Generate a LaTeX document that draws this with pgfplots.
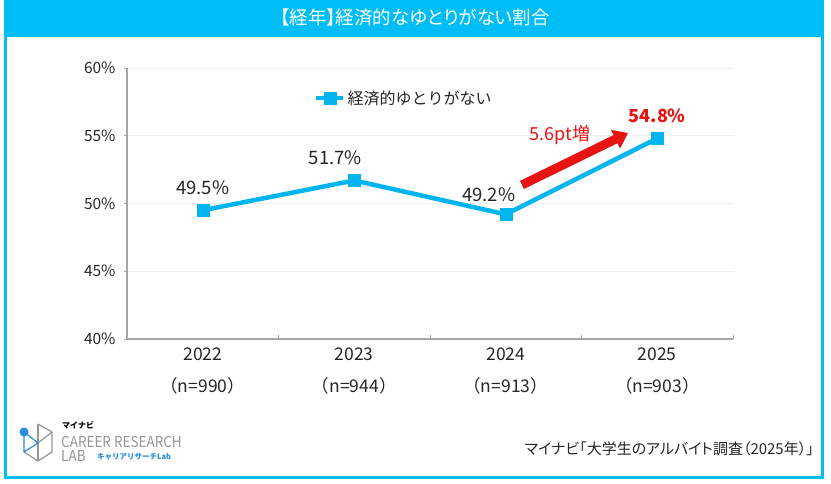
\documentclass[border=0pt]{standalone}
\usepackage{pgfplots}
\pgfplotsset{compat=1.18}
\usetikzlibrary{arrows.meta}
\usepackage{fontspec}
\setmainfont{Noto Sans CJK JP}
\newfontfamily\jp[RawFeature=+palt]{Noto Sans CJK JP}
\definecolor{cy}{RGB}{0,180,240}
\definecolor{barc}{RGB}{0,190,245}
\definecolor{txt}{RGB}{38,38,38}
\definecolor{axc}{RGB}{166,166,166}
\definecolor{grd}{RGB}{238,238,238}
\definecolor{logog}{RGB}{150,150,150}
\definecolor{logob}{RGB}{40,140,220}
\definecolor{redc}{RGB}{232,20,20}
\begin{document}
\begin{tikzpicture}
\begin{scope}[x=1bp,y=-1bp]
\fill[white] (0,0) rectangle (831,484);
\fill[barc] (4,0) rectangle (823,37);
\draw[barc, line width=3bp] (5.5,1.5) rectangle (822,477);
\node[white, font=\jp\fontsize{18.5bp}{20bp}\selectfont] at (415,18) {【経年】経済的なゆとりがない割合};
% logo
\draw[logog, line width=1.2bp, line join=round] (38,424) -- (52,432) -- (52,452) -- (38,461) -- (24,452);
\draw[logog, line width=1.2bp] (38,424) -- (38,461);
\draw[logog, line width=1.2bp] (38,443) -- (52,432);
\draw[logob, line width=1.2bp, line join=round] (24,432) -- (24,452) -- (38,443) -- (24,432);
\fill[logob] (24,432) circle (4.5);
\node[anchor=west, inner sep=0, font=\fontsize{8bp}{9bp}\selectfont\bfseries] at (62,425) {マイナビ};
\node[anchor=west, inner sep=0, logog, xscale=0.9, font=\fontsize{15bp}{16bp}\selectfont] at (61,442) {CAREER RESEARCH};
\node[anchor=west, inner sep=0, logog, xscale=0.9, font=\fontsize{15bp}{16bp}\selectfont] at (61,456) {LAB};
\node[anchor=west, inner sep=0, logob, font=\fontsize{7.5bp}{8bp}\selectfont\bfseries] at (97,457) {キャリアリサーチLab};
% source
\node[anchor=east, inner sep=0, txt, font=\jp\fontsize{15bp}{16bp}\selectfont] at (814,449) {マイナビ「大学生のアルバイト調査（2025年）」};
\end{scope}
\begin{axis}[
  at={(127bp,-339bp)}, anchor=south west,
  scale only axis, width=606bp, height=271bp,
  xmin=-0.5, xmax=3.5, ymin=40, ymax=60,
  axis x line*=bottom, axis y line*=left,
  axis line style={axc, line width=1.2bp},
  xtick={0,1,2,3},
  xticklabels={{2022\\[12bp]（n=990）},{2023\\[12bp]（n=944）},{2024\\[12bp]（n=913）},{2025\\[12bp]（n=903）}},
  x tick label style={align=center, yshift=-5bp, font=\fontsize{17.5bp}{20bp}\selectfont, text=txt},
  major x tick style={draw=none},
  minor xtick={0.5,1.5,2.5,3.5},
  minor x tick style={axc, line width=0.8bp},
  minor tick length=4bp,
  xtick align=inside,
  ytick={40,45,50,55,60},
  yticklabels={40\%,45\%,50\%,55\%,60\%},
  y tick label style={xshift=-5bp, font=\fontsize{15.5bp}{17bp}\selectfont, text=txt},
  major y tick style={axc, line width=0.8bp},
  major tick length=3bp,
  ytick align=outside,
  ymajorgrids, grid style={grd, line width=0.8bp},
  clip=false,
  legend style={at={(0.457,0.889)}, anchor=center, draw=none, fill=none,
    font=\fontsize{16bp}{18bp}\selectfont, text=txt},
  legend cell align=left,
  legend image code/.code={\draw[#1, mark repeat=2, mark phase=2] plot coordinates {(0bp,0bp) (13.5bp,0bp) (27bp,0bp)};},
]
\addplot[cy, line width=4.5bp, mark=square*, mark size=6bp, mark options={solid, line width=0.5bp, fill=cy}]
  coordinates {(0,49.5) (1,51.7) (2,49.2) (3,54.8)};
\addlegendentry{経済的ゆとりがない}
\addplot[draw=none, mark=none, forget plot, nodes near coords, point meta=explicit symbolic,
  every node near coord/.style={anchor=center, yshift=23bp, font=\fontsize{18.5bp}{20bp}\selectfont, text=txt}]
  coordinates {(0,49.5)[49.5\%]};
\addplot[draw=none, mark=none, forget plot, nodes near coords, point meta=explicit symbolic,
  every node near coord/.style={anchor=center, xshift=-19bp, yshift=23bp, font=\fontsize{18.5bp}{20bp}\selectfont, text=txt}]
  coordinates {(1,51.7)[51.7\%]};
\addplot[draw=none, mark=none, forget plot, nodes near coords, point meta=explicit symbolic,
  every node near coord/.style={anchor=center, xshift=-17bp, yshift=20bp, font=\fontsize{18.5bp}{20bp}\selectfont, text=txt}]
  coordinates {(2,49.2)[49.2\%]};
\addplot[draw=none, mark=none, forget plot, nodes near coords, point meta=explicit symbolic,
  every node near coord/.style={anchor=center, yshift=23bp, font=\fontsize{18bp}{20bp}\selectfont\bfseries, text=redc}]
  coordinates {(3,54.8)[54.8\%]};
\draw[redc, line width=9bp, -{Triangle[length=14bp,width=20bp]}] (axis cs:2.107,51.37) -- (axis cs:2.807,55.2);
\node[redc, font=\fontsize{18bp}{20bp}\selectfont] at (axis cs:2.358,55.06) {5.6pt増};
\end{axis}
\begin{scope}[x=1bp,y=-1bp]
\pgfresetboundingbox
\path[use as bounding box] (0,0) rectangle (831,484);
\end{scope}
\end{tikzpicture}
\end{document}
